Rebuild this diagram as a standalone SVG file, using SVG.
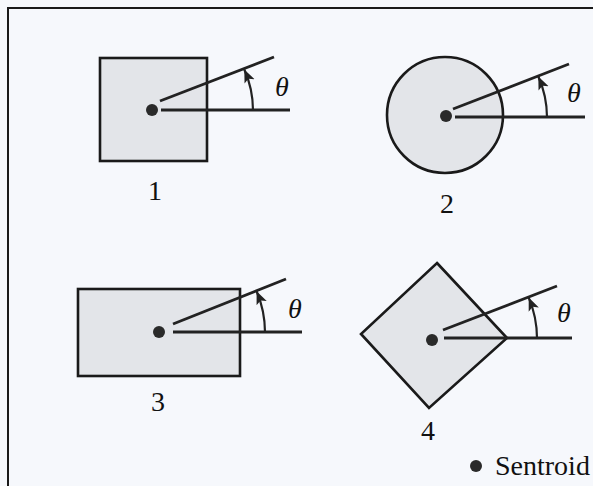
<svg xmlns="http://www.w3.org/2000/svg" width="593" height="486" viewBox="0 0 593 486">
<style>
.shape{fill:#e3e5e9;stroke:#1a1a1a;stroke-width:2.6}
.ln{stroke:#222;stroke-width:2.8;fill:none}
.arc{stroke:#222;stroke-width:2.2;fill:none}
.dot{fill:#2a2a2a}
.t{font-family:"Liberation Serif","Times New Roman",serif;font-size:28px;fill:#111;text-anchor:middle}
.th{font-style:italic}
</style>
<defs>
<marker id="ah" markerUnits="userSpaceOnUse" markerWidth="14" markerHeight="14" viewBox="0 0 14 14" refX="13" refY="7" orient="auto">
<path d="M0,1.5 L13,7 L0,12.5 L3,7 Z" fill="#222"/>
</marker>
</defs>
<rect x="0" y="0" width="593" height="486" fill="#f6f8fc"/>
<rect x="8" y="8" width="600" height="500" fill="none" stroke="#1a1a1a" stroke-width="2"/>
<g id="shape1">
<rect class="shape" x="100" y="58" width="107" height="103"/>
<circle class="dot" cx="152" cy="110" r="6"/>
<text class="t" x="155" y="200">1</text>
</g>
<g id="shape2">
<circle class="shape" cx="445" cy="115" r="58"/>
<circle class="dot" cx="446" cy="116" r="6"/>
<text class="t" x="447" y="213">2</text>
</g>
<g id="shape3">
<rect class="shape" x="78" y="289" width="162" height="87"/>
<circle class="dot" cx="159" cy="332" r="6"/>
<text class="t" x="158" y="411">3</text>
</g>
<g id="shape4">
<polygon class="shape" points="437,263 507,338 429,408 361,334"/>
<circle class="dot" cx="432" cy="340" r="6"/>
<text class="t" x="428" y="440">4</text>
</g>
<g id="connectors">
<line class="ln" x1="161" y1="110" x2="290" y2="110"/>
<line class="ln" x1="160" y1="101" x2="274" y2="57"/>
<path class="arc" d="M253,110 A101,101 0 0 0 244.3,69.5" marker-end="url(#ah)"/>
<line class="ln" x1="455" y1="117" x2="585" y2="117"/>
<line class="ln" x1="453" y1="109" x2="569" y2="64"/>
<path class="arc" d="M547,117 A101,101 0 0 0 538.3,76.5" marker-end="url(#ah)"/>
<line class="ln" x1="173" y1="332" x2="302" y2="332"/>
<line class="ln" x1="173" y1="324" x2="286" y2="279"/>
<path class="arc" d="M265,332 A106,106 0 0 0 256.6,291.2" marker-end="url(#ah)"/>
<line class="ln" x1="444" y1="338" x2="572" y2="338"/>
<line class="ln" x1="443" y1="330" x2="557" y2="286"/>
<path class="arc" d="M537,338 A105,105 0 0 0 528.7,297.6" marker-end="url(#ah)"/>
</g>
<g id="labels">
<text class="t th" x="282" y="96">θ</text>
<text class="t th" x="574" y="102">θ</text>
<text class="t th" x="295" y="318">θ</text>
<text class="t th" x="564" y="322">θ</text>
</g>
<g id="legend">
<circle class="dot" cx="476" cy="466" r="6"/>
<text class="t" x="495" y="475" style="text-anchor:start">Sentroid</text>
</g>
</svg>
